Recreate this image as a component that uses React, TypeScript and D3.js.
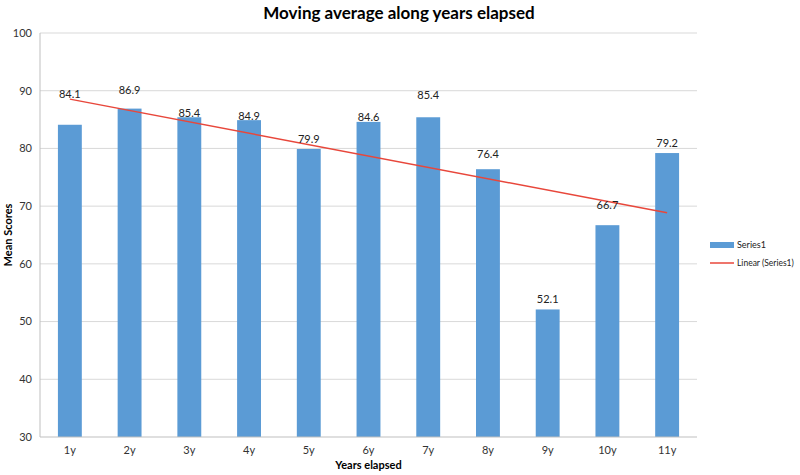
import React from "react";
import * as d3 from "d3";

const categories = ["1y", "2y", "3y", "4y", "5y", "6y", "7y", "8y", "9y", "10y", "11y"];
const series1 = [84.1, 86.9, 85.4, 84.9, 79.9, 84.6, 85.4, 76.4, 52.1, 66.7, 79.2];
const yTicks = [30, 40, 50, 60, 70, 80, 90, 100];
// label lift above bar top (px), as manually placed in the original
const labelLift = [31, 18, 4, 4, 10, 5, 22, 15, 10, 20, 10];

const W = 800;
const H = 475;
const M = { left: 40, right: 103, top: 33, bottom: 38 };
const FONT = "Lato, 'Open Sans', 'Liberation Sans', sans-serif";

export default function App() {
  const x = d3
    .scaleBand<string>()
    .domain(categories)
    .range([M.left, W - M.right])
    .paddingInner(0.6)
    .paddingOuter(0.3);
  const y = d3.scaleLinear().domain([30, 100]).range([H - M.bottom, M.top]);

  // linear trendline (least squares over category index)
  const xs = series1.map((_, i) => i + 1);
  const mx = d3.mean(xs) as number;
  const my = d3.mean(series1) as number;
  const sxy = d3.sum(xs, (v, i) => (v - mx) * (series1[i] - my));
  const sxx = d3.sum(xs, (v) => (v - mx) * (v - mx));
  const slope = sxy / sxx;
  const icpt = my - slope * mx;
  const cx = (c: string) => (x(c) as number) + x.bandwidth() / 2;
  const ends = [0, categories.length - 1];
  const trend = d3
    .line<number>()
    .x((i) => cx(categories[i]))
    .y((i) => y(icpt + slope * (i + 1)));

  return (
    <svg
      width={W}
      height={H}
      style={{ position: "absolute", left: 0, top: 0, background: "#fff" }}
      fontFamily={FONT}
    >
      <text x={399} y={19} textAnchor="middle" fontSize={17} fontWeight="bold" fill="#000">
        Moving average along years elapsed
      </text>
      {yTicks.map((t) => (
        <g key={t}>
          {t !== 30 && (
            <line x1={M.left} x2={W - M.right} y1={y(t)} y2={y(t)} stroke="#d9d9d9" strokeWidth={1} />
          )}
          <text x={32} y={y(t)} dy="0.35em" textAnchor="end" fontSize={11} fill="#333">
            {t}
          </text>
        </g>
      ))}
      <line x1={M.left} x2={M.left} y1={M.top} y2={H - M.bottom} stroke="#bfbfbf" />
      {categories.map((c, i) => (
        <rect
          key={c}
          x={x(c)}
          y={y(series1[i])}
          width={x.bandwidth()}
          height={y(30) - y(series1[i])}
          fill="#5b9bd5"
        />
      ))}
      <line x1={M.left} x2={W - M.right} y1={y(30)} y2={y(30)} stroke="#bfbfbf" />
      <path d={trend(ends) || ""} fill="none" stroke="#e8473b" strokeWidth={1.5} />
      {categories.map((c, i) => (
        <text
          key={c}
          x={cx(c)}
          y={y(series1[i]) - labelLift[i]}
          dy="0.35em"
          textAnchor="middle"
          fontSize={11}
          fill="#222"
        >
          {series1[i].toFixed(1)}
        </text>
      ))}
      {categories.map((c) => (
        <text key={c} x={cx(c)} y={454} textAnchor="middle" fontSize={11} fill="#333">
          {c}
        </text>
      ))}
      <text
        x={(M.left + W - M.right) / 2}
        y={469}
        textAnchor="middle"
        fontSize={11}
        fontWeight="bold"
        fill="#000"
      >
        Years elapsed
      </text>
      <text
        transform={`translate(12, ${(M.top + H - M.bottom) / 2}) rotate(-90)`}
        textAnchor="middle"
        fontSize={11}
        fontWeight="bold"
        fill="#000"
      >
        Mean Scores
      </text>
      <rect x={710} y={242} width={24} height={6} fill="#5b9bd5" />
      <text x={737} y={245} dy="0.35em" fontSize={9} fill="#222">
        Series1
      </text>
      <line x1={710} x2={734} y1={263} y2={263} stroke="#e8473b" strokeWidth={1.5} />
      <text x={737} y={263} dy="0.35em" fontSize={8.5} fill="#222">
        Linear (Series1)
      </text>
    </svg>
  );
}
